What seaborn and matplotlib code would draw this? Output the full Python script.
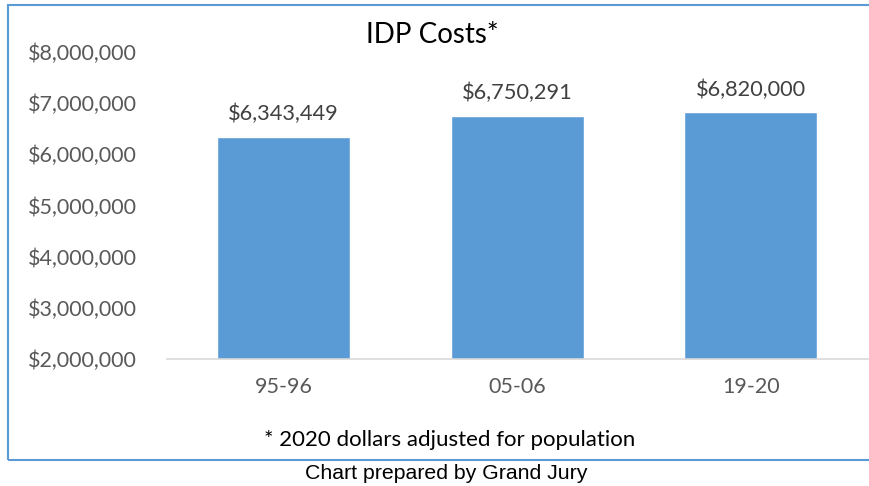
import matplotlib
matplotlib.use("Agg")
import matplotlib.pyplot as plt
import seaborn as sns
import pandas as pd
from matplotlib.patches import Rectangle
from matplotlib.ticker import FuncFormatter

categories = ["95-96", "05-06", "19-20"]
values = [6343449, 6750291, 6820000]
yticks = [2000000, 3000000, 4000000, 5000000, 6000000, 7000000, 8000000]

sns.set_theme(style="white")
plt.rcParams['font.family'] = ['Lato', 'DejaVu Sans']

W, H = 869, 486
fig = plt.figure(figsize=(W / 100, H / 100), dpi=100)
ax = fig.add_axes([167 / W, 1 - 359 / H, (867.5 - 167) / W, (359 - 52) / H])

df = pd.DataFrame({"cat": categories, "val": values})
sns.barplot(data=df, x="cat", y="val", color="#5B9BD5", saturation=1, width=0.57, ax=ax)

ax.set_xlim(-0.5, 2.5)
ax.set_ylim(2000000, 8000000)
ax.set_yticks(yticks)
ax.yaxis.set_major_formatter(FuncFormatter(lambda v, p: f"${v:,.0f}"))
ax.set_xlabel("")
ax.set_ylabel("")
for s in ["top", "right", "left"]:
    ax.spines[s].set_visible(False)
ax.spines["bottom"].set_color("#D9D9D9")
ax.spines["bottom"].set_linewidth(1.2)
ax.tick_params(axis="y", length=0, pad=22, labelsize=15.5, labelcolor="#595959")
ax.tick_params(axis="x", length=0, pad=13, labelsize=15.5, labelcolor="#595959")
for lbl in ax.get_yticklabels():
    lbl.set_horizontalalignment("right")

for i, v in enumerate(values):
    ax.annotate(f"${v:,.0f}", (i, v), xytext=(0, 9), textcoords="offset points",
                ha="center", va="bottom", fontsize=15.7, color="#404040")

# chart border
fig.patches.append(Rectangle((8 / W, 1 - 460 / H), 1.2, (460 - 5) / H,
                             transform=fig.transFigure, fill=False,
                             edgecolor="#5B9BD5", linewidth=1.5))

fig.text(432 / W, 1 - 35 / H, "IDP Costs*", ha="center", va="center", fontsize=20, color="black")
fig.text(450 / W, 1 - 440 / H, "* 2020 dollars adjusted for population", ha="center",
         va="center", fontsize=16, color="black")
fig.text(446 / W, 1 - 473 / H, "Chart prepared by Grand Jury", ha="center", va="center",
         fontsize=15.3, color="black", family=["Liberation Sans", "DejaVu Sans"])

fig.savefig("out.png", dpi=100)
